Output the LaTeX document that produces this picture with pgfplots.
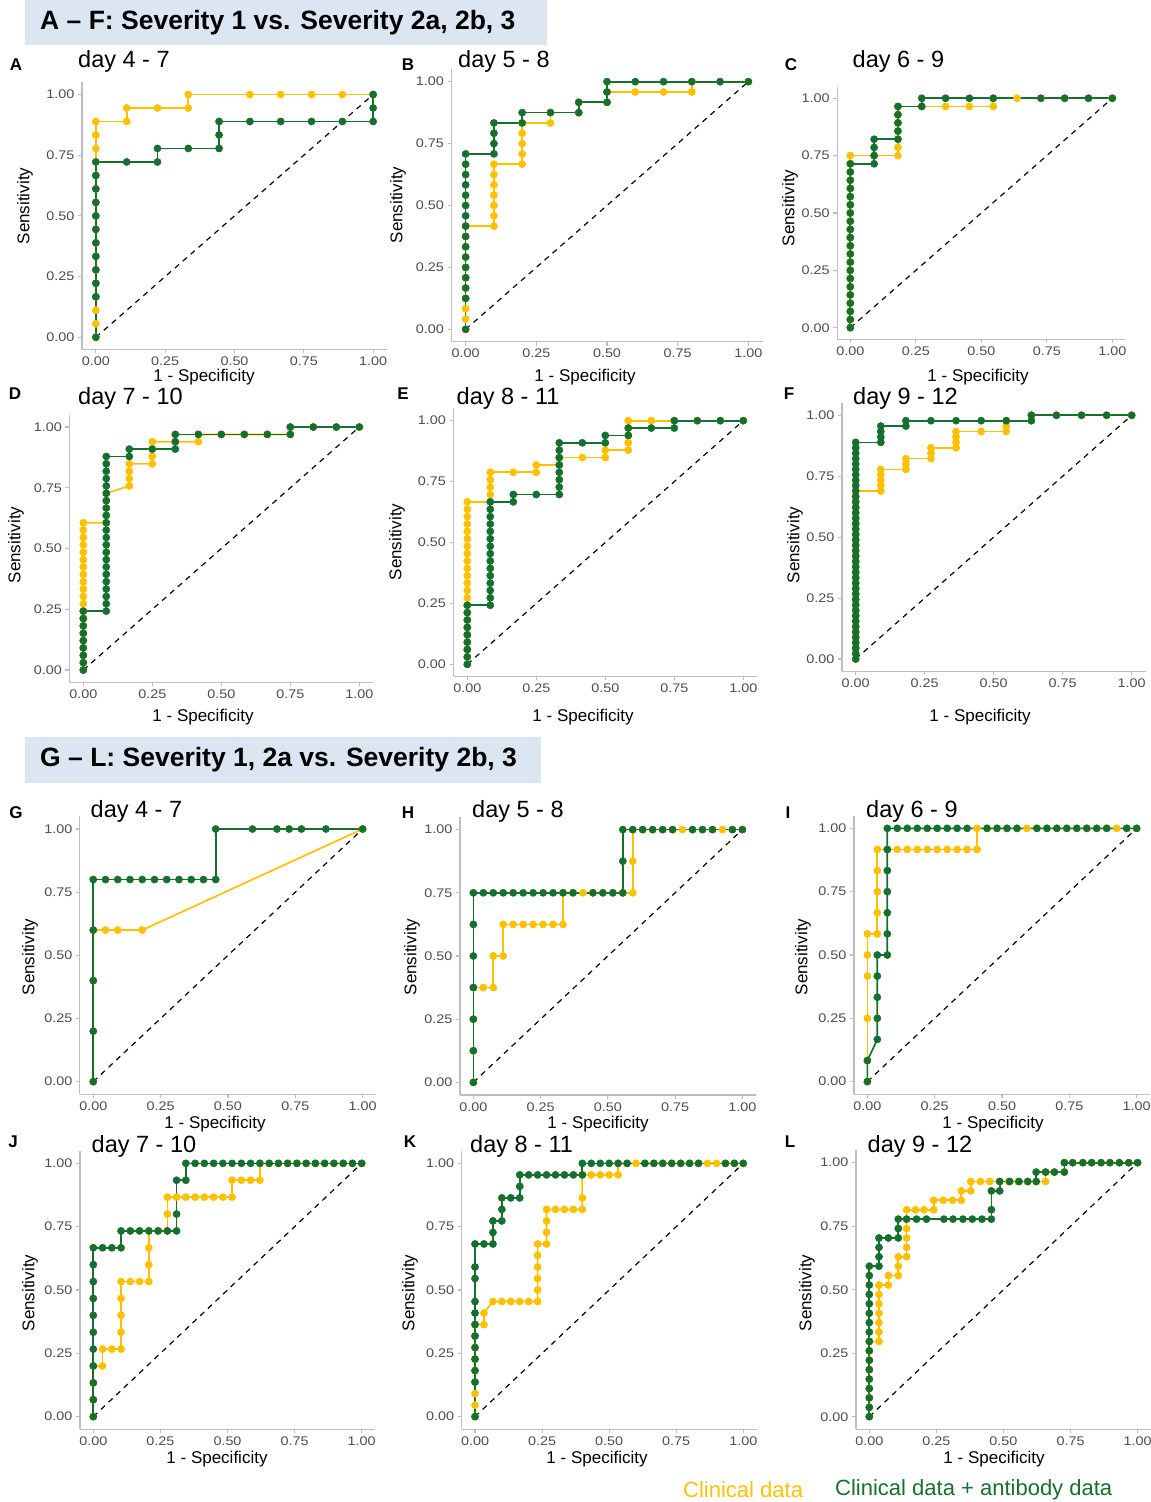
\documentclass[border=0pt]{standalone}
\usepackage{fontspec}
\setmainfont{Liberation Sans}
\newfontfamily\tickfont[FakeStretch=1.15]{Liberation Sans}
\usepackage{pgfplots}
\pgfplotsset{compat=1.18}
\definecolor{cy}{RGB}{255,192,0}
\definecolor{cg}{RGB}{21,112,48}
\definecolor{axg}{RGB}{190,190,190}
\definecolor{tkl}{RGB}{77,77,77}
\definecolor{hdr}{RGB}{220,230,242}
\newcommand{\fs}[1]{\fontsize{#1}{#1}\selectfont}
\pgfplotsset{
 roc/.style={scale only axis, anchor=south west,
  xmin=-0.05,xmax=1.05,ymin=-0.05,ymax=1.05,
  axis x line*=bottom, axis y line*=left,
  axis line style={draw=axg, line width=1.3pt},
  xtick={0,0.25,0.5,0.75,1}, ytick={0,0.25,0.5,0.75,1},
  xticklabels={0.00,0.25,0.50,0.75,1.00}, yticklabels={0.00,0.25,0.50,0.75,1.00},
  tick align=outside, major tick length=4pt,
  tick style={draw=axg, line width=1.1pt},
  ticklabel style={font=\tickfont\fs{12.5}, text=tkl},
  clip=false},
 yel/.style={color=cy, line width=1.7pt, mark=*, mark size=3.6pt, mark options={solid, fill=cy, draw=cy, line width=0.5pt}},
 grn/.style={color=cg, line width=1.7pt, mark=*, mark size=3.6pt, mark options={solid, fill=cg, draw=cg, line width=0.5pt}},
 dia/.style={black, line width=1.2pt, dash pattern=on 5.5pt off 5pt}
}
\begin{document}
\begin{tikzpicture}[x=1pt,y=1pt]
\useasboundingbox (0,0) rectangle (1151,1502);
% headers
\fill[hdr] (25,1502) rectangle (547,1457);
\node[anchor=west, inner sep=0] at (40,1479.5) {\fs{26.5}\bfseries A – F: Severity 1 vs. Severity 2a, 2b, 3};
\fill[hdr] (25,765) rectangle (541,719);
\node[anchor=west, inner sep=0] at (40,742) {\fs{26.5}\bfseries G – L: Severity 1, 2a vs. Severity 2b, 3};

% ===== A =====
\begin{axis}[roc, at={(82pt,1152.6pt)}, width=305pt, height=267pt]
\addplot[dia] coordinates {(0,0)(1,1)};
\addplot[yel] coordinates {(0,0)(0,.0556)(0,.1111)(0,.1667)(0,.2222)(0,.2778)(0,.3333)(0,.3889)(0,.4444)(0,.5)(0,.5556)(0,.6111)(0,.6667)(0,.7222)(0,.7778)(0,.8333)(0,.8889)(.1111,.8889)(.1111,.9444)(.2222,.9444)(.3333,.9444)(.3333,1)(.5556,1)(.6667,1)(.7778,1)(.8889,1)(1,1)};
\addplot[grn] coordinates {(0,0)(0,.1667)(0,.2222)(0,.2778)(0,.3333)(0,.3889)(0,.4444)(0,.5)(0,.5556)(0,.6111)(0,.6667)(0,.7222)(.1111,.7222)(.2222,.7222)(.2222,.7778)(.3333,.7778)(.4444,.7778)(.4444,.8333)(.4444,.8889)(.5556,.8889)(.6667,.8889)(.7778,.8889)(.8889,.8889)(1,.8889)(1,.9444)(1,1)};
\end{axis}
% ===== B =====
\begin{axis}[roc, at={(451.5pt,1160.3pt)}, width=311pt, height=272.4pt]
\addplot[dia] coordinates {(0,0)(1,1)};
\addplot[yel] coordinates {(0,0)(0,.0417)(0,.0833)(0,.125)(0,.1667)(0,.2083)(0,.25)(0,.2917)(0,.3333)(0,.375)(0,.4167)(.1,.4167)(.1,.4583)(.1,.5)(.1,.5417)(.1,.5833)(.1,.625)(.1,.6667)(.2,.6667)(.2,.7083)(.2,.75)(.2,.7917)(.2,.8333)(.3,.8333)(.3,.875)(.4,.875)(.4,.9167)(.5,.9167)(.5,.9583)(.6,.9583)(.7,.9583)(.8,.9583)(.8,1)(.9,1)(1,1)};
\addplot[grn] coordinates {(0,0)(0,.125)(0,.1667)(0,.2083)(0,.25)(0,.2917)(0,.3333)(0,.375)(0,.4167)(0,.4583)(0,.5)(0,.5417)(0,.5833)(0,.625)(0,.6667)(0,.7083)(.1,.7083)(.1,.75)(.1,.7917)(.1,.8333)(.2,.8333)(.2,.875)(.3,.875)(.4,.875)(.4,.9167)(.5,.9167)(.5,.9583)(.5,1)(.6,1)(.7,1)(.8,1)(.9,1)(1,1)};
\end{axis}
% ===== C =====
\begin{axis}[roc, at={(837.2pt,1162.8pt)}, width=288.2pt, height=252.4pt]
\addplot[dia] coordinates {(0,0)(1,1)};
\addplot[yel] coordinates {(0,0)(0,.0357)(0,.0714)(0,.1071)(0,.1429)(0,.1786)(0,.2143)(0,.25)(0,.2857)(0,.3214)(0,.3571)(0,.3929)(0,.4286)(0,.4643)(0,.5)(0,.5357)(0,.5714)(0,.6071)(0,.6429)(0,.6786)(0,.7143)(0,.75)(.0909,.75)(.1818,.75)(.1818,.7857)(.1818,.8214)(.1818,.8571)(.1818,.8929)(.1818,.9286)(.1818,.9643)(.2727,.9643)(.3636,.9643)(.4545,.9643)(.5455,.9643)(.5455,1)(.6364,1)(.7273,1)(.8182,1)(.9091,1)(1,1)};
\addplot[grn] coordinates {(0,0)(0,.0357)(0,.0714)(0,.1071)(0,.1429)(0,.1786)(0,.2143)(0,.25)(0,.2857)(0,.3214)(0,.3571)(0,.3929)(0,.4286)(0,.4643)(0,.5)(0,.5357)(0,.5714)(0,.6071)(0,.6429)(0,.6786)(0,.7143)(.0909,.7143)(.0909,.75)(.0909,.7857)(.0909,.8214)(.1818,.8214)(.1818,.8571)(.1818,.8929)(.1818,.9286)(.1818,.9643)(.2727,.9643)(.2727,1)(.3636,1)(.4545,1)(.5455,1)(.7273,1)(.8182,1)(.9091,1)(1,1)};
\end{axis}
% ===== D =====
\begin{axis}[roc, at={(69.5pt,819.8pt)}, width=303.6pt, height=267.3pt]
\addplot[dia] coordinates {(0,0)(1,1)};
\addplot[yel] coordinates {(0,0)(0,.0303)(0,.0606)(0,.0909)(0,.1212)(0,.1515)(0,.1818)(0,.2121)(0,.2424)(0,.2727)(0,.3030)(0,.3333)(0,.3636)(0,.3939)(0,.4242)(0,.4545)(0,.4848)(0,.5152)(0,.5455)(0,.5758)(0,.6061)(.0833,.6061)(.0833,.6364)(.0833,.6667)(.0833,.6970)(.0833,.7273)(.1667,.7576)(.1667,.7879)(.1667,.8182)(.1667,.8485)(.25,.8485)(.25,.8788)(.25,.9091)(.25,.9394)(.3333,.9394)(.4167,.9394)(.4167,.9697)(.5,.9697)(.5833,.9697)(.6667,.9697)(.75,.9697)(.75,1)(.8333,1)(.9167,1)(1,1)};
\addplot[grn] coordinates {(0,0)(0,.0303)(0,.0606)(0,.0909)(0,.1212)(0,.1515)(0,.1818)(0,.2121)(0,.2424)(.0833,.2424)(.0833,.2727)(.0833,.3030)(.0833,.3333)(.0833,.3636)(.0833,.3939)(.0833,.4242)(.0833,.4545)(.0833,.4848)(.0833,.5152)(.0833,.5455)(.0833,.5758)(.0833,.6061)(.0833,.6364)(.0833,.6667)(.0833,.6970)(.0833,.7273)(.0833,.7576)(.0833,.7879)(.0833,.8182)(.0833,.8485)(.0833,.8788)(.1667,.8788)(.1667,.9091)(.25,.9091)(.3333,.9091)(.3333,.9394)(.3333,.9697)(.4167,.9697)(.5,.9697)(.5833,.9697)(.6667,.9697)(.75,.9697)(.75,1)(.8333,1)(.9167,1)(1,1)};
\end{axis}
% ===== E =====
\begin{axis}[roc, at={(453.5pt,825.5pt)}, width=303.6pt, height=268pt]
\addplot[dia] coordinates {(0,0)(1,1)};
\addplot[yel] coordinates {(0,0)(0,.0303)(0,.0606)(0,.0909)(0,.1212)(0,.1515)(0,.1818)(0,.2121)(0,.2424)(0,.2727)(0,.3030)(0,.3333)(0,.3636)(0,.3939)(0,.4242)(0,.4545)(0,.4848)(0,.5152)(0,.5455)(0,.5758)(0,.6061)(0,.6364)(0,.6667)(.0833,.6667)(.0833,.6970)(.0833,.7273)(.0833,.7576)(.0833,.7879)(.1667,.7879)(.25,.7879)(.25,.8182)(.3333,.8182)(.3333,.8485)(.4167,.8485)(.5,.8485)(.5,.8788)(.5833,.8788)(.5833,.9091)(.5833,.9394)(.5833,.9697)(.5833,1)(.6667,1)(.75,1)(.8333,1)(.9167,1)(1,1)};
\addplot[grn] coordinates {(0,0)(0,.0303)(0,.0606)(0,.0909)(0,.1212)(0,.1515)(0,.1818)(0,.2121)(0,.2424)(.0833,.2424)(.0833,.2727)(.0833,.3030)(.0833,.3333)(.0833,.3636)(.0833,.3939)(.0833,.4242)(.0833,.4545)(.0833,.4848)(.0833,.5152)(.0833,.5455)(.0833,.5758)(.0833,.6061)(.0833,.6364)(.0833,.6667)(.1667,.6667)(.1667,.6970)(.25,.6970)(.3333,.6970)(.3333,.7273)(.3333,.7576)(.3333,.7879)(.3333,.8182)(.3333,.8485)(.3333,.8788)(.3333,.9091)(.4167,.9091)(.5,.9091)(.5,.9394)(.5833,.9394)(.5833,.9697)(.6667,.9697)(.75,.9697)(.75,1)(.8333,1)(.9167,1)(1,1)};
\end{axis}
% ===== F =====
\begin{axis}[roc, at={(841.9pt,830.8pt)}, width=303.6pt, height=268.1pt]
\addplot[dia] coordinates {(0,0)(1,1)};
\addplot[yel] coordinates {(0,0)(0,.0222)(0,.0444)(0,.0667)(0,.0889)(0,.1111)(0,.1333)(0,.1556)(0,.1778)(0,.2)(0,.2222)(0,.2444)(0,.2667)(0,.2889)(0,.3111)(0,.3333)(0,.3556)(0,.3778)(0,.4)(0,.4222)(0,.4444)(0,.4667)(0,.4889)(0,.5111)(0,.5333)(0,.5556)(0,.5778)(0,.6)(0,.6222)(0,.6444)(0,.6667)(0,.6889)(.0909,.6889)(.0909,.7111)(.0909,.7333)(.0909,.7556)(.0909,.7778)(.1818,.7778)(.1818,.8)(.1818,.8222)(.2727,.8222)(.2727,.8444)(.2727,.8667)(.3636,.8667)(.3636,.8889)(.3636,.9111)(.3636,.9333)(.4545,.9333)(.5455,.9333)(.5455,.9556)(.5455,.9778)(.6364,.9778)(.6364,1)(.7273,1)(.8182,1)(.9091,1)(1,1)};
\addplot[grn] coordinates {(0,0)(0,.0222)(0,.0444)(0,.0667)(0,.0889)(0,.1111)(0,.1333)(0,.1556)(0,.1778)(0,.2)(0,.2222)(0,.2444)(0,.2667)(0,.2889)(0,.3111)(0,.3333)(0,.3556)(0,.3778)(0,.4)(0,.4222)(0,.4444)(0,.4667)(0,.4889)(0,.5111)(0,.5333)(0,.5556)(0,.5778)(0,.6)(0,.6222)(0,.6444)(0,.6667)(0,.6889)(0,.7111)(0,.7333)(0,.7556)(0,.7778)(0,.8)(0,.8222)(0,.8444)(0,.8667)(0,.8889)(.0909,.8889)(.0909,.9111)(.0909,.9333)(.0909,.9556)(.1818,.9556)(.1818,.9778)(.2727,.9778)(.3636,.9778)(.4545,.9778)(.5455,.9778)(.6364,.9778)(.6364,1)(.7273,1)(.8182,1)(.9091,1)(1,1)};
\end{axis}
% ===== G =====
\begin{axis}[roc, at={(79.8pt,407.7pt)}, width=296.3pt, height=277.9pt]
\addplot[dia] coordinates {(0,0)(1,1)};
\addplot[yel] coordinates {(0,0)(0,.4)(0,.6)(.0455,.6)(.0909,.6)(.1818,.6)(1,1)};
\addplot[grn] coordinates {(0,0)(0,.2)(0,.4)(0,.6)(0,.8)(.0455,.8)(.0909,.8)(.1364,.8)(.1818,.8)(.2273,.8)(.2727,.8)(.3182,.8)(.3636,.8)(.4091,.8)(.4545,.8)(.4545,1)(.5909,1)(.6818,1)(.7273,1)(.7727,1)(.8636,1)(1,1)};
\end{axis}
% ===== H =====
\begin{axis}[roc, at={(459.9pt,407pt)}, width=295.9pt, height=278pt]
\addplot[dia] coordinates {(0,0)(1,1)};
\addplot[yel] coordinates {(0,0)(0,.125)(0,.25)(0,.375)(.0370,.375)(.0741,.375)(.0741,.5)(.1111,.5)(.1111,.625)(.1481,.625)(.1852,.625)(.2222,.625)(.2593,.625)(.2963,.625)(.3333,.625)(.3333,.75)(.3704,.75)(.4074,.75)(.4444,.75)(.4815,.75)(.5185,.75)(.5556,.75)(.5926,.75)(.5926,.875)(.5926,1)(.6296,1)(.6667,1)(.7037,1)(.7407,1)(.7778,1)(.8148,1)(.8519,1)(.8889,1)(.9259,1)(.9630,1)(1,1)};
\addplot[grn] coordinates {(0,0)(0,.125)(0,.25)(0,.375)(0,.5)(0,.625)(0,.75)(.0370,.75)(.0741,.75)(.1111,.75)(.1481,.75)(.1852,.75)(.2222,.75)(.2593,.75)(.2963,.75)(.3333,.75)(.3704,.75)(.4444,.75)(.4815,.75)(.5185,.75)(.5556,.75)(.5556,.875)(.5556,1)(.5926,1)(.6296,1)(.6667,1)(.7037,1)(.7407,1)(.8148,1)(.8519,1)(.8889,1)(.9630,1)(1,1)};
\end{axis}
% ===== I =====
\begin{axis}[roc, at={(853.9pt,407.7pt)}, width=296.2pt, height=278.6pt]
\addplot[dia] coordinates {(0,0)(1,1)};
\addplot[yel] coordinates {(0,0)(0,.0833)(0,.25)(0,.4167)(0,.5)(0,.5833)(.0370,.5833)(.0370,.6667)(.0370,.75)(.0370,.8333)(.0370,.9167)(.0741,.9167)(.1111,.9167)(.1481,.9167)(.1852,.9167)(.2222,.9167)(.2593,.9167)(.2963,.9167)(.3333,.9167)(.3704,.9167)(.4074,.9167)(.4074,1)(.4444,1)(.4815,1)(.5185,1)(.5556,1)(.5926,1)(.6296,1)(.6667,1)(.7037,1)(.7407,1)(.7778,1)(.8148,1)(.8519,1)(.8889,1)(.9259,1)(.9630,1)(1,1)};
\addplot[grn] coordinates {(0,0)(0,.0833)(.0370,.1667)(.0370,.25)(.0370,.3333)(.0370,.4167)(.0370,.5)(.0741,.5)(.0741,.5833)(.0741,.6667)(.0741,.75)(.0741,.8333)(.0741,.9167)(.0741,1)(.1111,1)(.1481,1)(.1852,1)(.2222,1)(.2593,1)(.2963,1)(.3333,1)(.3704,1)(.4444,1)(.4815,1)(.5185,1)(.5556,1)(.6296,1)(.6667,1)(.7037,1)(.7407,1)(.7778,1)(.8148,1)(.8519,1)(.8889,1)(.9630,1)(1,1)};
\end{axis}
% ===== J =====
\begin{axis}[roc, at={(79.9pt,72.7pt)}, width=295.2pt, height=278.6pt]
\addplot[dia] coordinates {(0,0)(1,1)};
\addplot[yel] coordinates {(0,0)(0,.0667)(0,.1333)(0,.2)(.0345,.2)(.0345,.2667)(.0690,.2667)(.1034,.2667)(.1034,.3333)(.1034,.4)(.1034,.4667)(.1034,.5333)(.1379,.5333)(.1724,.5333)(.2069,.5333)(.2069,.6)(.2069,.6667)(.2069,.7333)(.2414,.7333)(.2759,.7333)(.2759,.8)(.2759,.8667)(.3103,.8667)(.3448,.8667)(.3793,.8667)(.4138,.8667)(.4483,.8667)(.4828,.8667)(.5172,.8667)(.5172,.9333)(.5517,.9333)(.5862,.9333)(.6207,.9333)(.6207,1)(.6552,1)(.6897,1)(.7241,1)(.7586,1)(.7931,1)(.8276,1)(.8621,1)(.8966,1)(.9310,1)(.9655,1)(1,1)};
\addplot[grn] coordinates {(0,0)(0,.0667)(0,.1333)(0,.2)(0,.2667)(0,.3333)(0,.4)(0,.4667)(0,.5333)(0,.6)(0,.6667)(.0345,.6667)(.0690,.6667)(.1034,.6667)(.1034,.7333)(.1379,.7333)(.1724,.7333)(.2069,.7333)(.2414,.7333)(.2759,.7333)(.3103,.7333)(.3103,.8)(.3103,.9333)(.3448,.9333)(.3448,1)(.3793,1)(.4138,1)(.4483,1)(.4828,1)(.5172,1)(.5517,1)(.5862,1)(.6207,1)(.6552,1)(.6897,1)(.7241,1)(.7586,1)(.7931,1)(.8276,1)(.8621,1)(.8966,1)(.9310,1)(.9655,1)(1,1)};
\end{axis}
% ===== K =====
\begin{axis}[roc, at={(461.6pt,72.7pt)}, width=295.1pt, height=278.6pt]
\addplot[dia] coordinates {(0,0)(1,1)};
\addplot[yel] coordinates {(0,0)(0,.0455)(0,.0909)(0,.1364)(0,.1818)(0,.2273)(0,.2727)(0,.3182)(0,.3636)(.0333,.3636)(.0333,.4091)(.0667,.4545)(.1,.4545)(.1333,.4545)(.1667,.4545)(.2,.4545)(.2333,.4545)(.2333,.5)(.2333,.5455)(.2333,.5909)(.2333,.6364)(.2333,.6818)(.2667,.6818)(.2667,.7273)(.2667,.7727)(.2667,.8182)(.3,.8182)(.3333,.8182)(.3667,.8182)(.4,.8182)(.4,.8636)(.4,.9545)(.4333,.9545)(.4667,.9545)(.5,.9545)(.5333,.9545)(.5333,1)(.5667,1)(.6,1)(.6333,1)(.6667,1)(.7,1)(.7333,1)(.7667,1)(.8,1)(.8333,1)(.8667,1)(.9,1)(.9333,1)(.9667,1)(1,1)};
\addplot[grn] coordinates {(0,0)(0,.1364)(0,.1818)(0,.2273)(0,.2727)(0,.3182)(0,.3636)(0,.4091)(0,.4545)(0,.5455)(0,.5909)(0,.6818)(.0333,.6818)(.0667,.6818)(.0667,.7273)(.0667,.7727)(.1,.7727)(.1,.8182)(.1,.8636)(.1333,.8636)(.1667,.8636)(.1667,.9091)(.1667,.9545)(.2,.9545)(.2333,.9545)(.2667,.9545)(.3,.9545)(.3333,.9545)(.3667,.9545)(.4,.9545)(.4,1)(.4333,1)(.4667,1)(.5,1)(.5333,1)(.5667,1)(.6333,1)(.6667,1)(.7,1)(.7333,1)(.7667,1)(.8,1)(.8333,1)(.9333,1)(.9667,1)(1,1)};
\end{axis}
% ===== L =====
\begin{axis}[roc, at={(855.9pt,72.6pt)}, width=295.1pt, height=279.4pt]
\addplot[dia] coordinates {(0,0)(1,1)};
\addplot[yel] coordinates {(0,0)(0,.037)(0,.0741)(0,.1111)(0,.1481)(0,.1852)(0,.2222)(0,.2593)(0,.2963)(.036,.2963)(.036,.3333)(.036,.3704)(.036,.4074)(.036,.4444)(.036,.4815)(.036,.5185)(.071,.5185)(.071,.5556)(.108,.5556)(.108,.5926)(.108,.6296)(.139,.6296)(.139,.6667)(.139,.7037)(.139,.7407)(.139,.7778)(.139,.8148)(.172,.8148)(.204,.8148)(.24,.8148)(.24,.8519)(.275,.8519)(.31,.8519)(.343,.8519)(.343,.8889)(.378,.8889)(.378,.9259)(.414,.9259)(.449,.9259)(.486,.9259)(.52,.9259)(.554,.9259)(.589,.9259)(.622,.9259)(.657,.9259)(.657,.963)(.69,.963)(.727,.963)(.727,1)(.758,1)(.796,1)(.829,1)(.864,1)(.897,1)(.932,1)(.967,1)(1,1)};
\addplot[grn] coordinates {(0,0)(0,.037)(0,.0741)(0,.1111)(0,.1481)(0,.1852)(0,.2222)(0,.2593)(0,.2963)(0,.3333)(0,.3704)(0,.4074)(0,.4444)(0,.4815)(0,.5185)(0,.5556)(0,.5926)(.036,.5926)(.036,.6296)(.036,.6667)(.036,.7037)(.071,.7037)(.108,.7037)(.108,.7407)(.108,.7778)(.139,.7778)(.176,.7778)(.213,.7778)(.278,.7778)(.312,.7778)(.349,.7778)(.384,.7778)(.42,.7778)(.455,.7778)(.455,.8148)(.455,.8889)(.486,.8889)(.486,.9259)(.523,.9259)(.558,.9259)(.591,.9259)(.622,.9259)(.622,.963)(.657,.963)(.69,.963)(.727,.963)(.727,1)(.758,1)(.796,1)(.829,1)(.864,1)(.897,1)(.932,1)(.967,1)(1,1)};
\end{axis}

% ===== panel letters =====
\begin{scope}[every node/.style={font=\fs{17}\bfseries, inner sep=0}]
\node at (16,1437) {A}; \node at (408,1437) {B}; \node at (791,1437) {C};
\node at (15,1108) {D}; \node at (403,1108) {E}; \node at (789,1108) {F};
\node at (16,689) {G}; \node at (408,689) {H}; \node at (788,689) {I};
\node at (13,360) {J}; \node at (410,360) {K}; \node at (790,360) {L};
\end{scope}
% ===== titles =====
\begin{scope}[every node/.style={font=\fs{23.5}, inner sep=0, anchor=west}]
\node at (78,1441) {day 4 - 7}; \node at (458,1441) {day 5 - 8}; \node at (852.5,1441) {day 6 - 9};
\node at (78,1104) {day 7 - 10}; \node at (456.5,1104) {day 8 - 11}; \node at (853,1104) {day 9 - 12};
\node at (90.5,691) {day 4 - 7}; \node at (472,691) {day 5 - 8}; \node at (866,691) {day 6 - 9};
\node at (91.5,356) {day 7 - 10}; \node at (470,356) {day 8 - 11}; \node at (867.5,356) {day 9 - 12};
\end{scope}
% ===== x labels =====
\begin{scope}[every node/.style={font=\fs{17}, inner sep=0}]
\node at (204,1125) {1 - Specificity}; \node at (585,1125) {1 - Specificity}; \node at (978,1125) {1 - Specificity};
\node at (203,785) {1 - Specificity}; \node at (583,785) {1 - Specificity}; \node at (980,785) {1 - Specificity};
\node at (215,378) {1 - Specificity}; \node at (598,378) {1 - Specificity}; \node at (993,378) {1 - Specificity};
\node at (217,43) {1 - Specificity}; \node at (597,43) {1 - Specificity}; \node at (994,43) {1 - Specificity};
\end{scope}
% ===== y labels =====
\begin{scope}[every node/.style={font=\fs{17}, inner sep=0, rotate=90}]
\node at (25,1296) {Sensitivity}; \node at (398,1297) {Sensitivity}; \node at (790,1294) {Sensitivity};
\node at (16,957) {Sensitivity}; \node at (397,960) {Sensitivity}; \node at (795,957) {Sensitivity};
\node at (30,545) {Sensitivity}; \node at (412,545) {Sensitivity}; \node at (803,545) {Sensitivity};
\node at (30,209) {Sensitivity}; \node at (410,209) {Sensitivity}; \node at (807,209) {Sensitivity};
\end{scope}
% ===== legend =====
\node[anchor=west, inner sep=0, text=cy, font=\fs{22}] at (683,12) {Clinical data};
\node[anchor=west, inner sep=0, text=cg, font=\fs{22}] at (835,12) {Clinical data + antibody data};
\end{tikzpicture}
\end{document}
